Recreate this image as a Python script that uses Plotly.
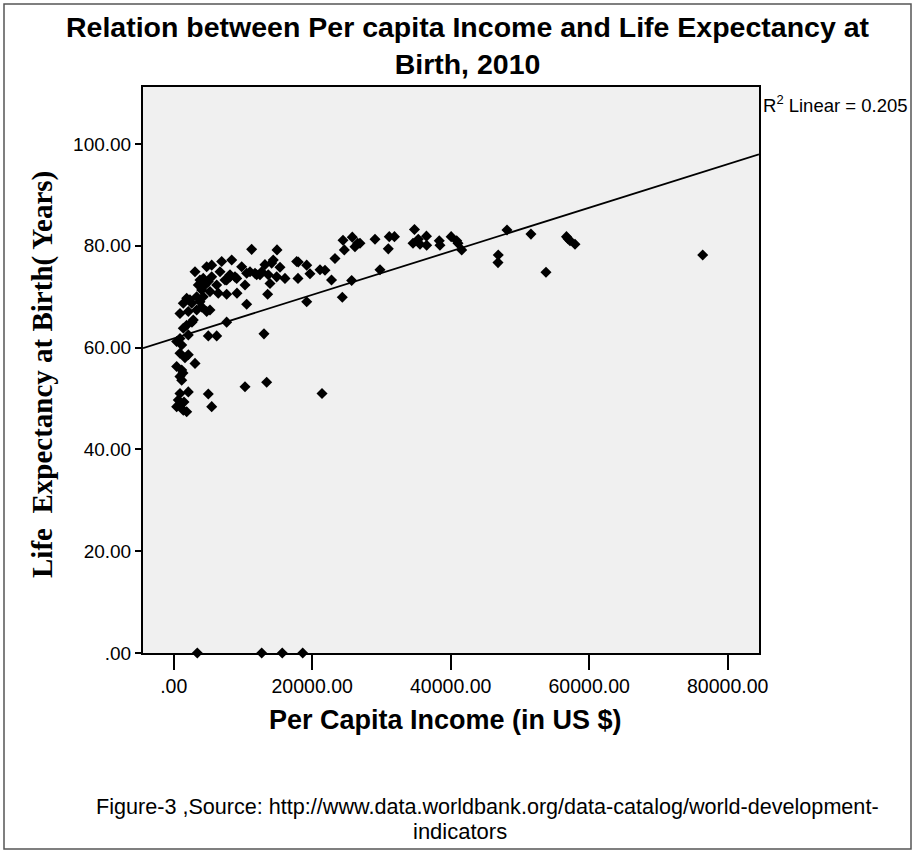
import plotly.graph_objects as go

# Per-capita income (US $) and life expectancy at birth (years), 2010
income = [
    430, 660, 910, 1390, 1880, 2110, 1050, 1490, 5000, 5490,
    430, 1160, 910, 1160, 1340, 3080, 910, 2110, 1630,
    910, 430, 1160, 2110, 1880, 1390, 2640, 2830, 5000, 6210, 7650,
    10300, 13430, 21420, 13040,
    910, 2110, 3320, 4770, 5240, 4040, 1390, 2600, 1880, 3320, 4270, 3800, 2350,
    10540, 6440, 7650, 9140, 13570, 19210, 24350,
    4040, 5240, 3550, 4520, 6210, 10300, 13910, 5000, 4270, 3800, 7410, 7650,
    8130, 9100, 5490, 16070, 17950, 22790, 25700, 29790, 53760,
    3080, 4770, 5490, 6930, 8380, 6690, 8130, 8850, 9820, 10540, 11020, 11740,
    11990, 12460, 12710, 13180, 13660, 14150, 14380, 14870, 15350, 11260, 14920,
    17760, 17990, 19210, 19680, 21130, 21850, 23290, 24450, 24640, 25790, 26180,
    26570, 26900, 29070, 31130, 31880, 30990, 34770, 34560, 35320, 35570, 36500,
    36530, 38350, 38450, 40070, 40870, 41050, 41590, 46870, 46830, 48130, 51590,
    56720, 57230, 57950, 56940, 76390,
    3410, 12710, 15680, 18630,
]
life_expectancy = [
    48.4, 49.7, 51.0, 47.7, 47.4, 51.3, 48.9, 49.3, 50.9, 48.4,
    56.3, 55.6, 54.3, 53.6, 55.0, 56.9, 58.9, 58.6, 58.0,
    61.8, 61.2, 60.5, 62.5, 64.4, 63.8, 65.0, 65.4, 62.3, 62.3, 65.0,
    52.3, 53.2, 51.0, 62.7,
    66.7, 67.1, 67.4, 67.1, 67.4, 68.0, 68.7, 68.7, 69.7, 70.0, 70.0, 69.0, 69.4,
    68.5, 70.7, 70.5, 70.7, 70.5, 69.0, 69.9,
    71.3, 71.0, 72.3, 72.3, 72.3, 72.3, 72.6, 73.0, 73.6, 73.3, 73.3, 73.3,
    73.9, 73.6, 73.9, 73.6, 73.6, 73.3, 73.2, 75.3, 74.8,
    74.9, 75.9, 76.2, 76.9, 77.2, 74.9, 74.3, 73.9, 75.9, 74.6, 74.9, 74.6,
    74.3, 74.3, 74.9, 76.3, 74.3, 76.6, 77.2, 73.9, 75.8, 79.3, 79.2,
    76.9, 76.8, 76.2, 74.5, 75.3, 75.2, 77.5, 81.1, 79.2, 81.7, 79.8,
    80.5, 80.5, 81.3, 81.8, 81.8, 79.4, 83.2, 80.5, 81.3, 80.3, 81.9,
    80.1, 81.0, 80.1, 81.8, 81.0, 80.5, 79.2, 78.2, 76.7, 83.1, 82.3,
    81.8, 81.0, 80.3, 81.4, 78.2,
    0.0, 0.0, 0.0, 0.0,
]

# Linear fit (R² = 0.205)
fit_intercept = 61.8
fit_slope = 0.000428
r_squared = 0.205

x_tickvals = [0, 20000, 40000, 60000, 80000]
x_ticktext = [".00", "20000.00", "40000.00", "60000.00", "80000.00"]
y_tickvals = [0, 20, 40, 60, 80, 100]
y_ticktext = [".00", "20.00", "40.00", "60.00", "80.00", "100.00"]

x_range = [-4430, 84520]
y_range = [0, 111.2]

W, H = 914, 852
L, R, T, B = 143, 759, 87, 653


def px(xp):
    return (xp - L) / (R - L)


def py(yp):
    return (B - yp) / (B - T)


fig = go.Figure()

fit_x = [x_range[0], x_range[1]]
fit_y = [fit_intercept + fit_slope * v for v in fit_x]
fig.add_trace(go.Scatter(
    x=fit_x, y=fit_y, mode="lines",
    line=dict(color="black", width=1.8),
    hoverinfo="skip", showlegend=False,
))

fig.add_trace(go.Scatter(
    x=income, y=life_expectancy, mode="markers",
    marker=dict(symbol="diamond", size=8.5, color="black", line=dict(width=0)),
    cliponaxis=False, showlegend=False,
))

sans = "Liberation Sans, Arial, sans-serif"
serif = "Liberation Serif, Times New Roman, serif"

fig.update_layout(
    width=W, height=H,
    margin=dict(l=L, r=W - R, t=T, b=H - B, pad=0),
    paper_bgcolor="white",
    plot_bgcolor="#f0f0f0",
    font=dict(family=sans, color="black"),
    xaxis=dict(
        range=x_range, tickvals=x_tickvals, ticktext=x_ticktext,
        showgrid=False, zeroline=False,
        showline=True, linecolor="black", linewidth=2, mirror=True,
        ticks="outside", ticklen=15, tickwidth=2, tickcolor="black",
        tickfont=dict(family=sans, size=19.5),
    ),
    yaxis=dict(
        range=y_range, tickvals=y_tickvals, ticktext=y_ticktext,
        showgrid=False, zeroline=False,
        showline=True, linecolor="black", linewidth=2, mirror=True,
        ticks="outside", ticklen=6, tickwidth=2, tickcolor="black",
        tickfont=dict(family=sans, size=19),
    ),
    shapes=[
        dict(type="rect", xref="paper", yref="paper",
             x0=px(4), x1=px(911), y0=py(849), y1=py(4),
             line=dict(color="#555555", width=1.5), layer="below"),
    ],
    annotations=[
        dict(text="<b>Relation between Per capita Income and Life Expectancy at<br>Birth, 2010</b>",
             xref="paper", yref="paper", x=px(468), y=py(46),
             xanchor="center", yanchor="middle", showarrow=False,
             font=dict(family=sans, size=28.5)),
        dict(text="<b>Per Capita Income (in US $)</b>",
             xref="paper", yref="paper", x=px(445), y=py(720),
             xanchor="center", yanchor="middle", showarrow=False,
             font=dict(family=sans, size=27)),
        dict(text="<b>Life  Expectancy at Birth( Years)</b>",
             xref="paper", yref="paper", x=px(42), y=py(375),
             xanchor="center", yanchor="middle", showarrow=False,
             textangle=-90, font=dict(family=serif, size=29)),
        dict(text=f"R<sup>2</sup> Linear = {r_squared}",
             xref="paper", yref="paper", x=px(761), y=py(104),
             xanchor="left", yanchor="middle", showarrow=False,
             font=dict(family=sans, size=18.5)),
        dict(text="Figure-3 ,Source: http://www.data.worldbank.org/data-catalog/world-development-",
             xref="paper", yref="paper", x=px(487), y=py(806),
             xanchor="center", yanchor="middle", showarrow=False,
             font=dict(family=sans, size=21.6)),
        dict(text="indicators",
             xref="paper", yref="paper", x=px(460), y=py(831),
             xanchor="center", yanchor="middle", showarrow=False,
             font=dict(family=sans, size=22)),
    ],
)

fig.write_html("out.html")
